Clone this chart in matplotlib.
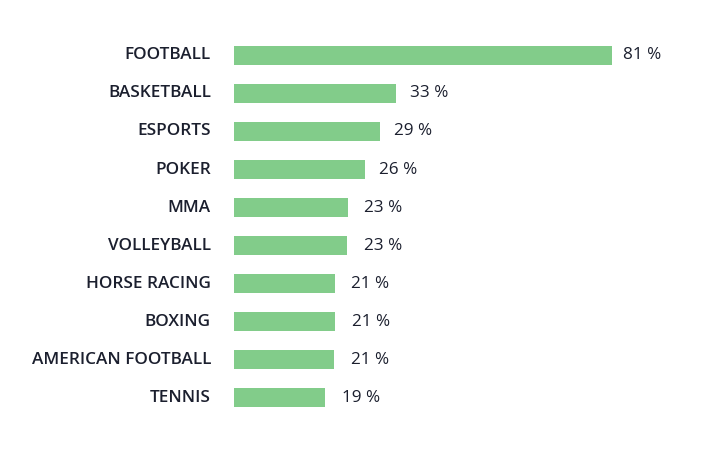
import matplotlib
matplotlib.use("Agg")
import matplotlib.pyplot as plt

categories = ["FOOTBALL", "BASKETBALL", "ESPORTS", "POKER", "MMA", "VOLLEYBALL",
              "HORSE RACING", "BOXING", "AMERICAN FOOTBALL", "TENNIS"]
# bar lengths as drawn (percent)
bar_values = [81, 34.7, 31.1, 28.0, 24.3, 24.2, 21.5, 21.5, 21.4, 19.5]
# printed value labels
value_labels = ["81 %", "33 %", "29 %", "26 %", "23 %", "23 %", "21 %", "21 %", "21 %", "19 %"]
# gap (px) between bar end and its value label
label_gaps_px = [11, 13.7, 14.3, 14, 16, 16.7, 16.3, 17, 17, 16.7]

W, H = 703, 461
fig = plt.figure(figsize=(W / 100, H / 100), dpi=100)
left_px, xmax = 234.5, 100
px_per_unit = (612.3 - 234.5) / 81
ax = fig.add_axes([left_px / W, (H - 416.5) / H, xmax * px_per_unit / W, 380 / H])

bar_color = "#82CC8A"
text_color = "#1B1F2E"
ys = list(range(len(categories)))
ax.barh(ys, bar_values, height=0.49, color=bar_color, edgecolor="none")
ax.set_xlim(0, xmax)
ax.set_ylim(len(categories) - 0.5, -0.5)
ax.axis("off")

fam = ["Open Sans", "DejaVu Sans"]
for y, cat, v, lab, g in zip(ys, categories, bar_values, value_labels, label_gaps_px):
    ax.text(-23.5 / px_per_unit, y, cat, ha="right", va="center", fontsize=12.3,
            fontweight="semibold", family=fam, color=text_color)
    ax.text(v + g / px_per_unit, y, lab, ha="left", va="center", fontsize=12.3,
            family=fam, color=text_color)

fig.savefig("out.png", dpi=100, facecolor="white")
